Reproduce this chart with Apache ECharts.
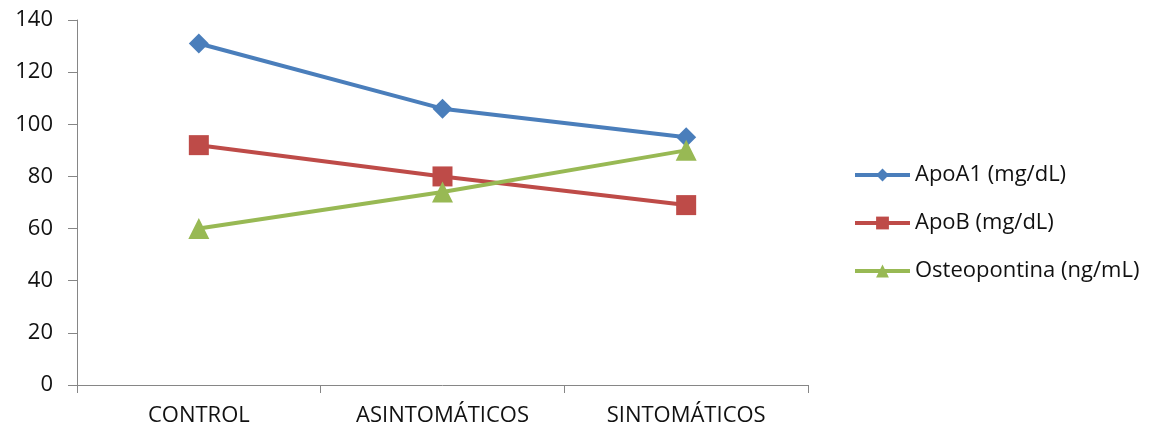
<!DOCTYPE html>
<html>
<head>
<meta charset="utf-8">
<script src="https://cdn.jsdelivr.net/npm/echarts@6/dist/echarts.min.js"></script>
<style>html,body{margin:0;padding:0;background:#fff;}#c{width:1151px;height:432px;}</style>
</head>
<body>
<div id="c"></div>
<script>
const categories = ['CONTROL', 'ASINTOMÁTICOS', 'SINTOMÁTICOS'];
const apoA1 = [131, 106, 95];
const apoB = [92, 80, 69];
const osteopontina = [60, 74, 90];
const seriesNames = ['ApoA1 (mg/dL)', 'ApoB (mg/dL)', 'Osteopontina (ng/mL)'];

const font = '"Open Sans", "Liberation Sans", sans-serif';
const chart = echarts.init(document.getElementById('c'), null, {renderer: 'canvas'});
function mk(name, data, color, symbol, size) {
  return {
    name: name, type: 'line', data: data, symbol: symbol, symbolSize: size,
    lineStyle: {color: color, width: 4}, itemStyle: {color: color},
    animation: false
  };
}
chart.setOption({
  animation: false,
  grid: {left: 77, right: 343, top: 20, bottom: 47},
  legend: {
    orient: 'vertical', left: 848, top: 158, itemGap: 24,
    itemWidth: 55, itemHeight: 16,
    lineStyle: {width: 4},
    textStyle: {fontFamily: font, fontSize: 22, lineHeight: 24, color: '#111'},
    data: seriesNames
  },
  xAxis: {
    type: 'category', data: categories, boundaryGap: true,
    axisLine: {lineStyle: {color: '#868686', width: 1}},
    axisTick: {show: true, length: 8, lineStyle: {color: '#868686'}},
    axisLabel: {fontFamily: font, fontSize: 22, color: '#111', margin: 20}
  },
  yAxis: {
    type: 'value', min: 0, max: 140, interval: 20,
    axisLine: {show: true, lineStyle: {color: '#868686', width: 1}},
    axisTick: {show: true, length: 9, lineStyle: {color: '#868686'}},
    splitLine: {show: false},
    axisLabel: {fontFamily: font, fontSize: 22, color: '#111', margin: 24}
  },
  series: [
    mk(seriesNames[0], apoA1, '#4a7ebb', 'diamond', 20),
    mk(seriesNames[1], apoB, '#be4b48', 'rect', 20),
    mk(seriesNames[2], osteopontina, '#98b954', 'triangle', 21)
  ]
});
</script>
</body>
</html>
